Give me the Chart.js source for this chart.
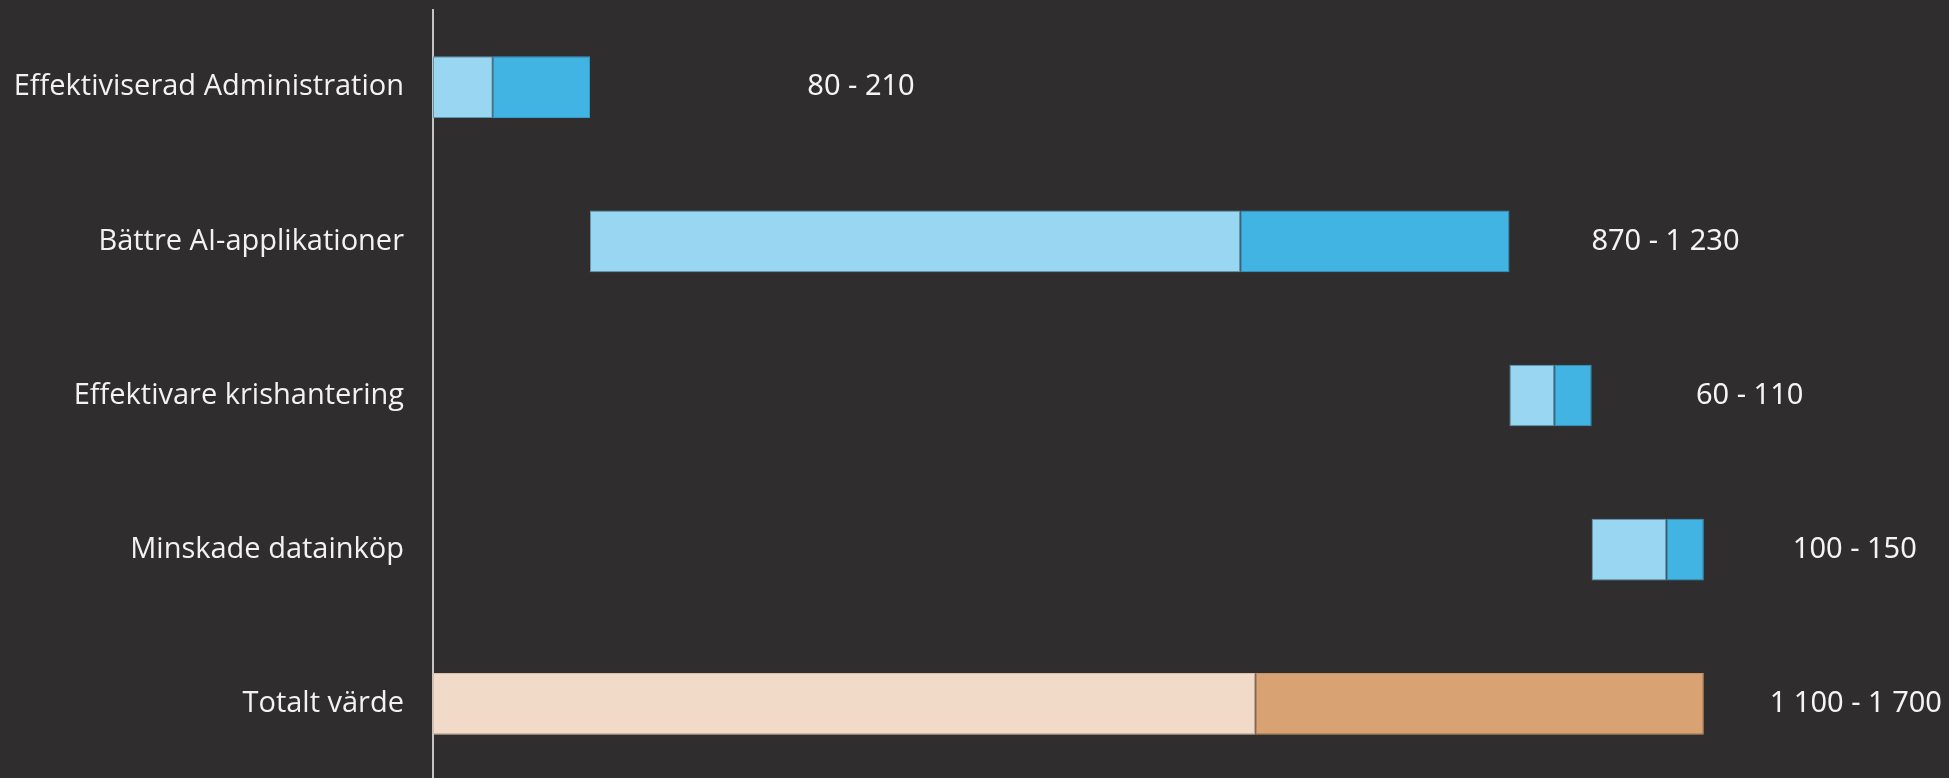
<!DOCTYPE html>
<html>
<head>
<meta charset="utf-8">
<script src="https://cdn.jsdelivr.net/npm/chart.js@4.4.1/dist/chart.umd.min.js"></script>
<style>
  html, body { margin: 0; padding: 0; background: #2f2d2e; overflow: hidden; }
  #wrap { position: relative; width: 1949px; height: 781px; }
</style>
</head>
<body>
<div id="wrap"><canvas id="mycanvas"></canvas></div>
<script>
// categories and value ranges (low - high)
var categories = ["Effektiviserad Administration", "Bättre AI-applikationer", "Effektivare krishantering", "Minskade datainköp", "Totalt värde"];
var lowValues = [80, 870, 60, 100, 1100];
var highValues = [210, 1230, 110, 150, 1700];
var isTotal = [false, false, false, false, true];

// label gap to the right of each bar end (px)
var labelGap = [271, 156, 158, 151, 152];

// waterfall: each item starts where the previous one's high ended, total starts at 0
var lowBars = [];
var highBars = [];
var start = 0;
for (var i in categories) {
	var s = isTotal[i] ? 0 : start;
	lowBars.push([s, s + lowValues[i]]);
	highBars.push([s + lowValues[i], s + highValues[i]]);
	if (!isTotal[i]) start = s + highValues[i];
}

function fmt(n) {
	return String(n).replace(/\B(?=(\d{3})+(?!\d))/g, " ");
}

var lightCol = categories.map(function(c, i){ return isTotal[i] ? "#f1dac8" : "#98d6f1"; });
var darkCol = categories.map(function(c, i){ return isTotal[i] ? "#d9a272" : "#41b4e4"; });
var lightBorder = categories.map(function(c, i){ return isTotal[i] ? "#d8bfac" : "#5f97b0"; });
var darkBorder = categories.map(function(c, i){ return isTotal[i] ? "#c99465" : "#3a9cc6"; });

var rangeLabels = {
	id: "rangeLabels",
	afterDatasetsDraw: function(chart) {
		var ctx = chart.ctx;
		var xs = chart.scales.x, ys = chart.scales.y;
		ctx.save();
		ctx.font = "29px 'Noto Sans'";
		ctx.fillStyle = "#f4f4f4";
		ctx.textAlign = "center";
		ctx.textBaseline = "middle";
		for (var i = 0; i < categories.length; i++) {
			var x = xs.getPixelForValue(highBars[i][1]) + labelGap[i];
			var y = ys.getPixelForValue(i);
			ctx.fillText(fmt(lowValues[i]) + " - " + fmt(highValues[i]), x, y);
		}
		ctx.restore();
	}
};

var chartdata = {
	labels: categories,
	datasets: [
		{
			label: "Lågt",
			data: lowBars,
			backgroundColor: lightCol,
			borderColor: lightBorder,
			borderWidth: 1,
			borderSkipped: false
		},
		{
			label: "Högt",
			data: highBars,
			backgroundColor: darkCol,
			borderColor: darkBorder,
			borderWidth: 1,
			borderSkipped: false
		}
	]
};

var ctx = document.getElementById("mycanvas");

var BarGraph = new Chart(ctx, {
	type: "bar",
	data: chartdata,
	plugins: [rangeLabels],
	options: {
		indexAxis: "y",
		responsive: true,
		maintainAspectRatio: false,
		animation: false,
		layout: { padding: { top: 10, right: 0, bottom: 0, left: 0 } },
		datasets: {
			bar: { grouped: false, barPercentage: 0.4, categoryPercentage: 1.0 }
		},
		plugins: {
			legend: { display: false },
			tooltip: { enabled: false }
		},
		scales: {
			x: {
				display: false,
				min: 0,
				max: 2028
			},
			y: {
				afterFit: function(scale) {
					scale.width = 433;
					scale.paddingTop = 0;
					scale.paddingBottom = 0;
				},
				grid: { color: "transparent", drawTicks: false },
				border: { display: true, color: "#c4c4c4", width: 2 },
				ticks: {
					padding: 29,
					color: "#f2f2f2",
					font: { family: "'Open Sans'", size: 29 }
				}
			}
		}
	}
});
</script>
</body>
</html>
